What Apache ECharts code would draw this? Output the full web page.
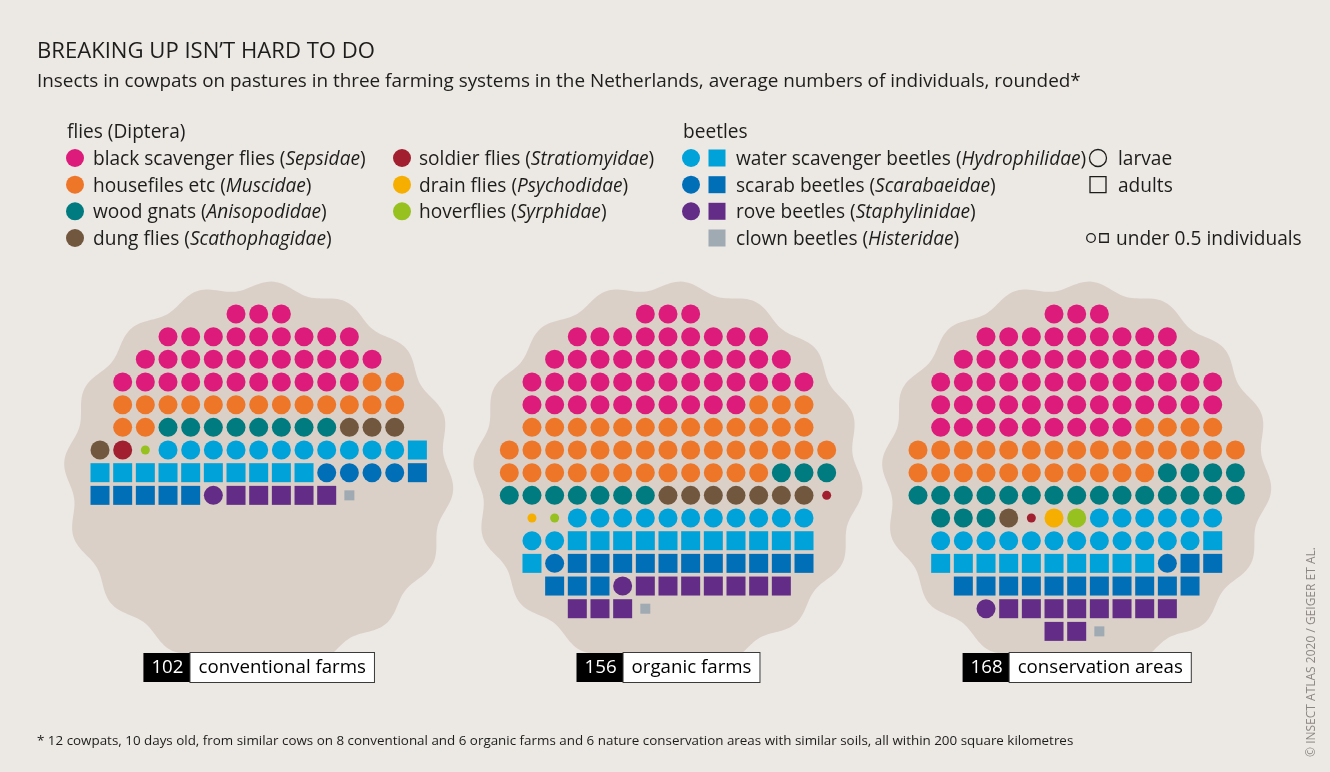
<!DOCTYPE html>
<html>
<head>
<meta charset="utf-8">
<script src="https://cdn.jsdelivr.net/npm/echarts@6/dist/echarts.min.js"></script>
<style>
  html, body { margin: 0; padding: 0; background: #ECE8E4; }
  #chart { width: 1330px; height: 772px; }
</style>
</head>
<body>
<div id="chart"></div>
<script>
// ---- data: average individuals per cowpat, rounded (0.3 = under 0.5 individuals) ----
const sites = ['conventional farms', 'organic farms', 'conservation areas'];
const siteTotals = [102, 156, 168];

const commonNames = [
  'black scavenger flies', 'housefiles etc', 'wood gnats', 'dung flies',
  'soldier flies', 'drain flies', 'hoverflies',
  'water scavenger beetles', 'scarab beetles', 'rove beetles', 'clown beetles'
];
const familyNames = [
  'Sepsidae', 'Muscidae', 'Anisopodidae', 'Scathophagidae',
  'Stratiomyidae', 'Psychodidae', 'Syrphidae',
  'Hydrophilidae', 'Scarabaeidae', 'Staphylinidae', 'Histeridae'
];

const sepsidae        = [34, 46, 58];
const muscidae        = [17, 43, 30];
const anisopodidae    = [8, 10, 22];
const scathophagidae  = [4, 7, 1];
const stratiomyidae   = [1, 0.3, 0.3];
const psychodidae     = [0, 0.3, 1];
const syrphidae       = [0.3, 0.3, 1];
const hydroLarvae     = [11, 13, 18];
const hydroAdults     = [11, 12, 11];
const scarabLarvae    = [4, 1, 1];
const scarabAdults    = [6, 14, 13];
const staphLarvae     = [1, 1, 1];
const staphAdults     = [5, 10, 10];
const histeridae      = [0.3, 0.3, 0.3];

const TITLE = 'BREAKING UP ISN’T HARD TO DO';
const SUBTITLE = 'Insects in cowpats on pastures in three farming systems in the Netherlands, average numbers of individuals, rounded*';
const FOOTNOTE = '* 12 cowpats, 10 days old, from similar cows on 8 conventional and 6 organic farms and 6 nature conservation areas with similar soils, all within 200 square kilometres';
const CREDIT = '© INSECT ATLAS 2020 / GEIGER ET AL.';

// ---- styling ----
const FONT = 'Open Sans';
const INK = '#1d1d1b';
const BG = '#ECE8E4';
const BLOB_FILL = '#DAD0C7';
const C = {
  pink: '#DD1B7B', orange: '#EE7629', teal: '#007B7F', brown: '#72573F',
  red: '#A11F2E', yellow: '#F6AE00', green: '#97C11F',
  lblue: '#00A2DA', dblue: '#006FB8', purple: '#632D87', grey: '#9FAAB2'
};

// font size that gives a text line a wanted width
const measureCtx = document.createElement('canvas').getContext('2d');
function fitSize(text, width) {
  measureCtx.font = '100px "' + FONT + '"';
  return Math.round(1000 * width / measureCtx.measureText(text).width) / 10;
}
const SIZE_TITLE = fitSize(TITLE, 338);
const SIZE_SUB = fitSize(SUBTITLE, 1043);
const SIZE_LEGEND = fitSize('black scavenger flies (Sepsidae)', 278);
const SIZE_CAPTION = fitSize('conventional farms', 168);
const SIZE_NOTE = fitSize(FOOTNOTE, 1040);
const SIZE_CREDIT = fitSize(CREDIT, 210);

// fill order inside each cowpat: family index, life stage, values, colour
const groups = [
  { fam: 0, shape: 'circle', values: sepsidae, color: C.pink },
  { fam: 1, shape: 'circle', values: muscidae, color: C.orange },
  { fam: 2, shape: 'circle', values: anisopodidae, color: C.teal },
  { fam: 3, shape: 'circle', values: scathophagidae, color: C.brown },
  { fam: 4, shape: 'circle', values: stratiomyidae, color: C.red },
  { fam: 5, shape: 'circle', values: psychodidae, color: C.yellow },
  { fam: 6, shape: 'circle', values: syrphidae, color: C.green },
  { fam: 7, shape: 'circle', values: hydroLarvae, color: C.lblue, stage: 'larvae' },
  { fam: 7, shape: 'rect', values: hydroAdults, color: C.lblue, stage: 'adults' },
  { fam: 8, shape: 'circle', values: scarabLarvae, color: C.dblue, stage: 'larvae' },
  { fam: 8, shape: 'rect', values: scarabAdults, color: C.dblue, stage: 'adults' },
  { fam: 9, shape: 'circle', values: staphLarvae, color: C.purple, stage: 'larvae' },
  { fam: 9, shape: 'rect', values: staphAdults, color: C.purple, stage: 'adults' },
  { fam: 10, shape: 'rect', values: histeridae, color: C.grey, stage: 'adults' }
];

// cell template of a cowpat: first and last column used in each row
const ROW_SPANS = [
  [6, 8], [3, 11], [2, 12], [1, 13], [1, 13], [1, 13], [0, 14], [0, 14],
  [0, 14], [1, 13], [1, 13], [1, 13], [2, 12], [3, 11], [6, 8]
];
const PITCH = 22.67;
const GRID_LEFT = [100, 509.3, 918];
const GRID_TOP = 314;
const CELLS = 14;
const MARK = 19, SMALL_CIRCLE = 9, SMALL_RECT = 10;
// cowpat outline, in cell units
const BLOB = { cx: 7, cy: 7.15, r: 8.4, amp: 0.2, waves: 16, phase: 0.4 };

function cellList() {
  const cells = [];
  ROW_SPANS.forEach((sp, r) => { for (let c = sp[0]; c <= sp[1]; c++) cells.push([c, r]); });
  return cells;
}

const grids = [], xAxes = [], yAxes = [], series = [];
sites.forEach((site, s) => {
  grids.push({ left: GRID_LEFT[s], top: GRID_TOP, width: CELLS * PITCH, height: CELLS * PITCH });
  xAxes.push({ gridIndex: s, type: 'value', min: 0, max: CELLS, show: false });
  yAxes.push({ gridIndex: s, type: 'value', min: 0, max: CELLS, inverse: true, show: false });

  series.push({
    type: 'custom', name: site, xAxisIndex: s, yAxisIndex: s, clip: false, silent: true, z: 1,
    data: [[BLOB.cx, BLOB.cy]],
    renderItem: function (params, api) {
      const pts = [];
      const N = 480;
      for (let k = 0; k < N; k++) {
        const t = 2 * Math.PI * k / N;
        const r = BLOB.r + BLOB.amp * Math.sin(BLOB.waves * t + BLOB.phase);
        pts.push(api.coord([api.value(0) + r * Math.cos(t), api.value(1) + r * Math.sin(t)]));
      }
      return { type: 'polygon', shape: { points: pts }, style: { fill: BLOB_FILL } };
    }
  });

  const cells = cellList();
  let idx = 0;
  groups.forEach(g => {
    const v = g.values[s];
    let n = 0, small = false;
    if (v >= 0.5) n = Math.round(v);
    else if (v > 0) { n = 1; small = true; }
    const pts = cells.slice(idx, idx + n);
    idx += n;
    if (!n) return;
    series.push({
      type: 'scatter', name: familyNames[g.fam] + (g.stage ? ' ' + g.stage : ''),
      xAxisIndex: s, yAxisIndex: s, silent: true, z: 2,
      symbol: g.shape,
      symbolSize: small ? (g.shape === 'rect' ? SMALL_RECT : SMALL_CIRCLE) : MARK,
      itemStyle: { color: g.color, opacity: 1 },
      data: pts
    });
  });
});

// ---- legend, captions and notes ----
const graphic = [];
const Z = 100;
function nameText(i) {
  return '{n|' + commonNames[i] + ' (}{i|' + familyNames[i] + '}{n|)}';
}
const legendRich = {
  n: { fontFamily: FONT, fontSize: SIZE_LEGEND, fill: INK, color: INK },
  i: { fontFamily: FONT, fontSize: SIZE_LEGEND, fontStyle: 'italic', fill: INK, color: INK }
};
function legendText(x, y, text) {
  graphic.push({ type: 'text', x: x, y: y + 1.5, z: Z, silent: true,
    style: { text: text, rich: legendRich, fill: INK, font: SIZE_LEGEND + 'px "' + FONT + '"',
             verticalAlign: 'middle', align: 'left' } });
}
function circleMark(x, y, r, fill, stroke) {
  graphic.push({ type: 'circle', z: Z, silent: true, shape: { cx: x, cy: y, r: r },
    style: stroke ? { fill: 'none', stroke: stroke, lineWidth: 1.3 } : { fill: fill } });
}
function rectMark(x, y, w, fill, stroke) {
  graphic.push({ type: 'rect', z: Z, silent: true, shape: { x: x - w / 2, y: y - w / 2, width: w, height: w },
    style: stroke ? { fill: 'none', stroke: stroke, lineWidth: 1.3 } : { fill: fill } });
}

const ROW_Y = [158, 184.7, 211.3, 238];
legendText(67, 131, '{n|flies (Diptera)}');
const fliesColA = [[0, C.pink], [1, C.orange], [2, C.teal], [3, C.brown]];
fliesColA.forEach((it, k) => { circleMark(75, ROW_Y[k], 9, it[1]); legendText(93, ROW_Y[k], nameText(it[0])); });
const fliesColB = [[4, C.red], [5, C.yellow], [6, C.green]];
fliesColB.forEach((it, k) => { circleMark(402, ROW_Y[k], 9, it[1]); legendText(419, ROW_Y[k], nameText(it[0])); });

legendText(683, 131, '{n|beetles}');
const beetles = [[7, C.lblue, true], [8, C.dblue, true], [9, C.purple, true], [10, C.grey, false]];
beetles.forEach((it, k) => {
  if (it[2]) circleMark(691, ROW_Y[k], 9, it[1]);
  rectMark(717, ROW_Y[k], 17, it[1]);
  legendText(736, ROW_Y[k], nameText(it[0]));
});
circleMark(1098, ROW_Y[0], 8.5, null, INK);
legendText(1118, ROW_Y[0], '{n|larvae}');
rectMark(1098, ROW_Y[1], 16, null, INK);
legendText(1118, ROW_Y[1], '{n|adults}');
circleMark(1091, ROW_Y[3], 4.3, null, INK);
rectMark(1104, ROW_Y[3], 8.5, null, INK);
legendText(1116, ROW_Y[3], '{n|under 0.5 individuals}');

// site captions: total in black, name in white box
sites.forEach((site, s) => {
  const cx = GRID_LEFT[s] + BLOB.cx * PITCH;
  graphic.push({
    type: 'text', x: cx, y: 667.5, z: Z, silent: true,
    style: {
      text: '{a|' + siteTotals[s] + '}{b|' + site + '}',
      align: 'center', verticalAlign: 'middle',
      rich: {
        a: { fontFamily: FONT, fontSize: SIZE_CAPTION, color: '#fff', fill: '#fff', backgroundColor: '#000',
             padding: [4, 7, 3, 8], lineHeight: 22, height: 22 },
        b: { fontFamily: FONT, fontSize: SIZE_CAPTION, color: '#000', fill: '#000', backgroundColor: '#fff',
             borderColor: '#3a3a3a', borderWidth: 1, padding: [4, 8, 3, 8], lineHeight: 22, height: 22 }
      }
    }
  });
});

graphic.push({
  type: 'text', x: 37, y: 741, z: Z, silent: true,
  style: { text: FOOTNOTE, font: SIZE_NOTE + 'px "' + FONT + '"', fill: INK, verticalAlign: 'middle', align: 'left' }
});
graphic.push({
  type: 'text', x: 1312, y: 652, rotation: Math.PI / 2, z: Z, silent: true,
  style: { text: CREDIT, font: SIZE_CREDIT + 'px "' + FONT + '"', fill: '#8c8782', verticalAlign: 'middle', align: 'center' }
});

const chart = echarts.init(document.getElementById('chart'), null, { renderer: 'canvas' });
chart.setOption({
  backgroundColor: BG,
  animation: false,
  title: {
    left: 37, top: 41, padding: 0,
    text: TITLE,
    subtext: SUBTITLE,
    itemGap: 9,
    textStyle: { fontFamily: FONT, fontSize: SIZE_TITLE, fontWeight: 'normal', color: INK },
    subtextStyle: { fontFamily: FONT, fontSize: SIZE_SUB, color: INK }
  },
  grid: grids,
  xAxis: xAxes,
  yAxis: yAxes,
  series: series,
  graphic: graphic
});
</script>
</body>
</html>
